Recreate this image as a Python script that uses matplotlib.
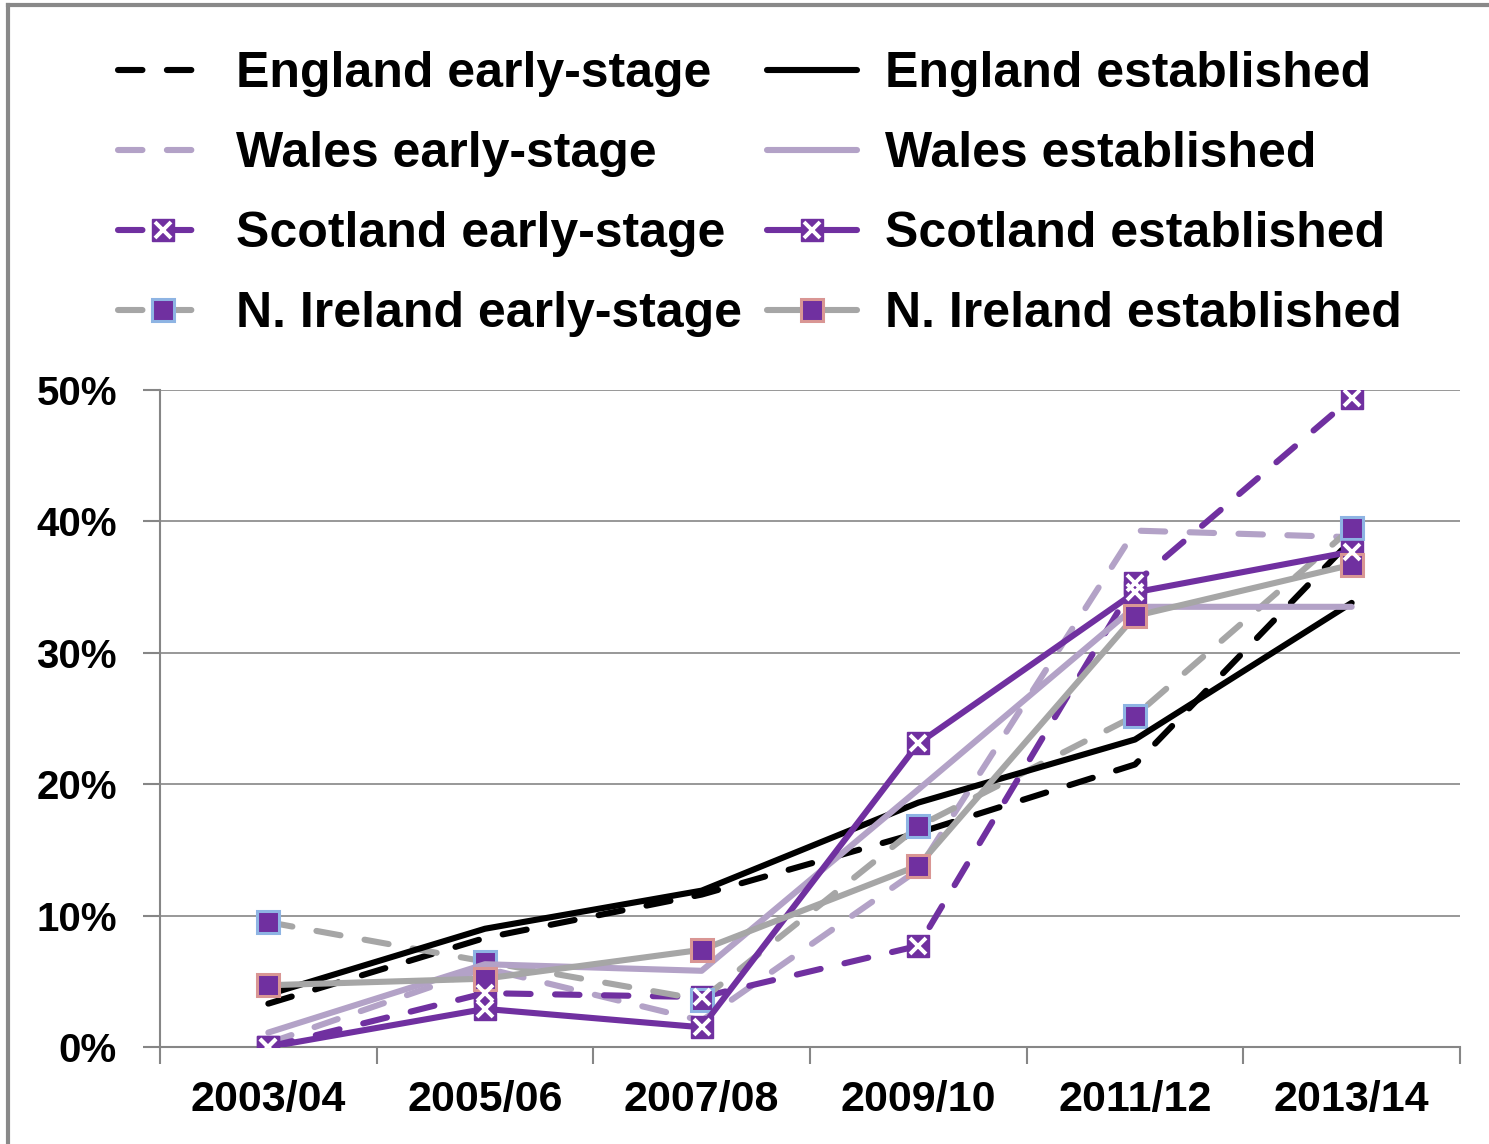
import matplotlib
matplotlib.use('Agg')
import matplotlib.pyplot as plt
from matplotlib.lines import Line2D
from matplotlib.legend_handler import HandlerTuple

plt.rcParams['font.family'] = ['Liberation Sans', 'DejaVu Sans']
plt.rcParams['font.weight'] = 'bold'

years = ['2003/04', '2005/06', '2007/08', '2009/10', '2011/12', '2013/14']

england_early = [3.3, 8.3, 11.6, 16.3, 21.5, 38.6]
england_est = [4.0, 9.0, 11.9, 18.6, 23.4, 33.8]
wales_early = [0.3, 6.0, 2.0, 13.5, 39.3, 38.8]
wales_est = [1.1, 6.3, 5.8, 19.6, 33.5, 33.5]
scotland_early = [0.0, 4.1, 3.8, 7.7, 35.3, 49.4]
scotland_est = [0.0, 2.9, 1.5, 23.1, 34.6, 37.7]
ni_early = [9.5, 6.5, 3.6, 16.8, 25.2, 39.5]
ni_est = [4.7, 5.2, 7.4, 13.8, 32.8, 36.7]

BLACK = '#000000'
LPURPLE = '#B3A2C7'
PURPLE = '#7030A0'
GREY = '#A6A6A6'
BLUE_EDGE = '#8EB4E3'
RED_EDGE = '#D99694'

fig = plt.figure(figsize=(14.89, 11.44), dpi=100)
ax = fig.add_axes([160/1489, 1-1047/1144, 1300/1489, 657/1144])

x = list(range(len(years)))
lw = 4.4
dash = (4.0, 4.0)
msz = 16


def line(vals, color, dashed, marker=None, edge=None):
    kw = dict(color=color, lw=lw, solid_capstyle='round', dash_capstyle='round', zorder=3)
    if dashed:
        kw['dashes'] = dash
    if marker == 'sq':
        kw.update(marker='s', ms=msz, mfc=PURPLE, mec=edge, mew=2.2)
    elif marker == 'x':
        kw.update(marker='s', ms=msz, mfc=PURPLE, mec=PURPLE, mew=1)
    h = ax.plot(x, vals, **kw)[0]
    if marker == 'x':
        h2 = ax.plot(x, vals, ls='none', marker='x', ms=msz*0.72, mec='white', mew=2.8, zorder=4)[0]
        return (h, h2)
    return h


h1 = line(england_early, BLACK, True)
h2 = line(wales_early, LPURPLE, True)
h3 = line(scotland_early, PURPLE, True, 'x')
h4 = line(ni_early, GREY, True, 'sq', BLUE_EDGE)
h5 = line(england_est, BLACK, False)
h6 = line(wales_est, LPURPLE, False)
h7 = line(scotland_est, PURPLE, False, 'x')
h8 = line(ni_est, GREY, False, 'sq', RED_EDGE)

ax.set_xlim(-0.5, 5.5)
ax.set_ylim(0, 50)
ax.set_yticks([0, 10, 20, 30, 40, 50])
ax.set_yticklabels(['0%', '10%', '20%', '30%', '40%', '50%'], fontsize=29, fontweight='bold')
ax.set_xticks(x)
ax.set_xticklabels(years, fontsize=31, fontweight='bold')
ax.set_xticks([i - 0.5 for i in range(7)], minor=True)
ax.tick_params(axis='x', which='major', length=0, pad=24)
ax.tick_params(axis='x', which='minor', length=12, width=1.5, color='#868686')
ax.tick_params(axis='y', length=12, width=1.5, color='#868686', pad=19)
ax.grid(axis='y', color='#868686', lw=1.2, zorder=0)
for s in ['top', 'right']:
    ax.spines[s].set_visible(False)
for s in ['left', 'bottom']:
    ax.spines[s].set_color('#868686')
    ax.spines[s].set_linewidth(1.5)

labels = ['England early-stage', 'Wales early-stage', 'Scotland early-stage', 'N. Ireland early-stage',
          'England established', 'Wales established', 'Scotland established', 'N. Ireland established']
fig.legend([h1, h2, h3, h4, h5, h6, h7, h8], labels, ncol=2, loc='upper left',
           bbox_to_anchor=(118/1489, 1-51/1144), frameon=False,
           handlelength=1.8, handletextpad=0.56, columnspacing=0.5, labelspacing=0.68,
           borderpad=0, borderaxespad=0, handler_map={tuple: HandlerTuple(ndivide=1)},
           prop={'weight': 'bold', 'size': 36})

# outer chart border
fig.add_artist(Line2D([8/1489, 8/1489], [0, 1-5/1144], color='#898989', lw=3))
fig.add_artist(Line2D([8/1489, 1], [1-5/1144, 1-5/1144], color='#898989', lw=3))

fig.savefig('out.png', dpi=100)
